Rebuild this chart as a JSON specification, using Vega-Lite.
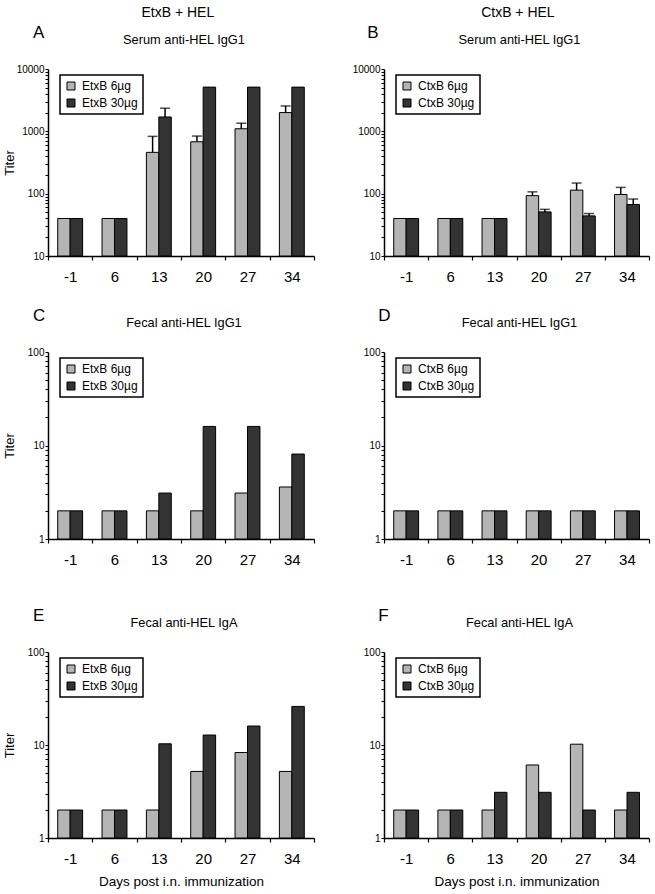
{
  "$schema": "https://vega.github.io/schema/vega-lite/v6.json",
  "padding": {"left": 3, "top": 6, "right": 3, "bottom": 3},
  "background": "white",
  "config": {
    "font": "Liberation Sans",
    "view": {"stroke": null},
    "title": {"fontWeight": "normal", "color": "black", "font": "Liberation Sans"},
    "axis": {"domainColor": "black", "tickColor": "black", "labelColor": "black", "titleColor": "black", "grid": false, "labelFont": "Liberation Sans", "titleFont": "Liberation Sans", "domainWidth": 1.5},
    "legend": {"orient": "none", "legendX": 12, "legendY": 6, "direction": "vertical", "padding": 5, "strokeColor": "black", "strokeWidth": 1.5, "fillColor": "white", "symbolType": "square", "symbolSize": 64, "symbolStrokeColor": "black", "symbolStrokeWidth": 1, "labelFontSize": 12, "labelColor": "black", "labelFont": "Liberation Sans", "rowPadding": 5, "labelOffset": 5, "titleFontSize": 1}
  },
  "datasets": {
    "d": [
      {"p": "A", "day": -1, "dose": "6µg", "g": "EtxB 6µg", "v": 40},
      {"p": "A", "day": -1, "dose": "30µg", "g": "EtxB 30µg", "v": 40},
      {"p": "A", "day": 6, "dose": "6µg", "g": "EtxB 6µg", "v": 40},
      {"p": "A", "day": 6, "dose": "30µg", "g": "EtxB 30µg", "v": 40},
      {"p": "A", "day": 13, "dose": "6µg", "g": "EtxB 6µg", "v": 460, "hi": 830},
      {"p": "A", "day": 13, "dose": "30µg", "g": "EtxB 30µg", "v": 1700, "hi": 2350},
      {"p": "A", "day": 20, "dose": "6µg", "g": "EtxB 6µg", "v": 680, "hi": 840},
      {"p": "A", "day": 20, "dose": "30µg", "g": "EtxB 30µg", "v": 5120},
      {"p": "A", "day": 27, "dose": "6µg", "g": "EtxB 6µg", "v": 1100, "hi": 1350},
      {"p": "A", "day": 27, "dose": "30µg", "g": "EtxB 30µg", "v": 5120},
      {"p": "A", "day": 34, "dose": "6µg", "g": "EtxB 6µg", "v": 2000, "hi": 2550},
      {"p": "A", "day": 34, "dose": "30µg", "g": "EtxB 30µg", "v": 5120},
      {"p": "B", "day": -1, "dose": "6µg", "g": "CtxB 6µg", "v": 40},
      {"p": "B", "day": -1, "dose": "30µg", "g": "CtxB 30µg", "v": 40},
      {"p": "B", "day": 6, "dose": "6µg", "g": "CtxB 6µg", "v": 40},
      {"p": "B", "day": 6, "dose": "30µg", "g": "CtxB 30µg", "v": 40},
      {"p": "B", "day": 13, "dose": "6µg", "g": "CtxB 6µg", "v": 40},
      {"p": "B", "day": 13, "dose": "30µg", "g": "CtxB 30µg", "v": 40},
      {"p": "B", "day": 20, "dose": "6µg", "g": "CtxB 6µg", "v": 93, "hi": 107},
      {"p": "B", "day": 20, "dose": "30µg", "g": "CtxB 30µg", "v": 51, "hi": 56},
      {"p": "B", "day": 27, "dose": "6µg", "g": "CtxB 6µg", "v": 114, "hi": 148},
      {"p": "B", "day": 27, "dose": "30µg", "g": "CtxB 30µg", "v": 44, "hi": 48},
      {"p": "B", "day": 34, "dose": "6µg", "g": "CtxB 6µg", "v": 97, "hi": 126},
      {"p": "B", "day": 34, "dose": "30µg", "g": "CtxB 30µg", "v": 67, "hi": 82},
      {"p": "C", "day": -1, "dose": "6µg", "g": "EtxB 6µg", "v": 2},
      {"p": "C", "day": -1, "dose": "30µg", "g": "EtxB 30µg", "v": 2},
      {"p": "C", "day": 6, "dose": "6µg", "g": "EtxB 6µg", "v": 2},
      {"p": "C", "day": 6, "dose": "30µg", "g": "EtxB 30µg", "v": 2},
      {"p": "C", "day": 13, "dose": "6µg", "g": "EtxB 6µg", "v": 2},
      {"p": "C", "day": 13, "dose": "30µg", "g": "EtxB 30µg", "v": 3.1},
      {"p": "C", "day": 20, "dose": "6µg", "g": "EtxB 6µg", "v": 2},
      {"p": "C", "day": 20, "dose": "30µg", "g": "EtxB 30µg", "v": 16},
      {"p": "C", "day": 27, "dose": "6µg", "g": "EtxB 6µg", "v": 3.1},
      {"p": "C", "day": 27, "dose": "30µg", "g": "EtxB 30µg", "v": 16},
      {"p": "C", "day": 34, "dose": "6µg", "g": "EtxB 6µg", "v": 3.6},
      {"p": "C", "day": 34, "dose": "30µg", "g": "EtxB 30µg", "v": 8.1},
      {"p": "D", "day": -1, "dose": "6µg", "g": "CtxB 6µg", "v": 2},
      {"p": "D", "day": -1, "dose": "30µg", "g": "CtxB 30µg", "v": 2},
      {"p": "D", "day": 6, "dose": "6µg", "g": "CtxB 6µg", "v": 2},
      {"p": "D", "day": 6, "dose": "30µg", "g": "CtxB 30µg", "v": 2},
      {"p": "D", "day": 13, "dose": "6µg", "g": "CtxB 6µg", "v": 2},
      {"p": "D", "day": 13, "dose": "30µg", "g": "CtxB 30µg", "v": 2},
      {"p": "D", "day": 20, "dose": "6µg", "g": "CtxB 6µg", "v": 2},
      {"p": "D", "day": 20, "dose": "30µg", "g": "CtxB 30µg", "v": 2},
      {"p": "D", "day": 27, "dose": "6µg", "g": "CtxB 6µg", "v": 2},
      {"p": "D", "day": 27, "dose": "30µg", "g": "CtxB 30µg", "v": 2},
      {"p": "D", "day": 34, "dose": "6µg", "g": "CtxB 6µg", "v": 2},
      {"p": "D", "day": 34, "dose": "30µg", "g": "CtxB 30µg", "v": 2},
      {"p": "E", "day": -1, "dose": "6µg", "g": "EtxB 6µg", "v": 2},
      {"p": "E", "day": -1, "dose": "30µg", "g": "EtxB 30µg", "v": 2},
      {"p": "E", "day": 6, "dose": "6µg", "g": "EtxB 6µg", "v": 2},
      {"p": "E", "day": 6, "dose": "30µg", "g": "EtxB 30µg", "v": 2},
      {"p": "E", "day": 13, "dose": "6µg", "g": "EtxB 6µg", "v": 2},
      {"p": "E", "day": 13, "dose": "30µg", "g": "EtxB 30µg", "v": 10.3},
      {"p": "E", "day": 20, "dose": "6µg", "g": "EtxB 6µg", "v": 5.2},
      {"p": "E", "day": 20, "dose": "30µg", "g": "EtxB 30µg", "v": 12.8},
      {"p": "E", "day": 27, "dose": "6µg", "g": "EtxB 6µg", "v": 8.3},
      {"p": "E", "day": 27, "dose": "30µg", "g": "EtxB 30µg", "v": 16},
      {"p": "E", "day": 34, "dose": "6µg", "g": "EtxB 6µg", "v": 5.2},
      {"p": "E", "day": 34, "dose": "30µg", "g": "EtxB 30µg", "v": 26},
      {"p": "F", "day": -1, "dose": "6µg", "g": "CtxB 6µg", "v": 2},
      {"p": "F", "day": -1, "dose": "30µg", "g": "CtxB 30µg", "v": 2},
      {"p": "F", "day": 6, "dose": "6µg", "g": "CtxB 6µg", "v": 2},
      {"p": "F", "day": 6, "dose": "30µg", "g": "CtxB 30µg", "v": 2},
      {"p": "F", "day": 13, "dose": "6µg", "g": "CtxB 6µg", "v": 2},
      {"p": "F", "day": 13, "dose": "30µg", "g": "CtxB 30µg", "v": 3.1},
      {"p": "F", "day": 20, "dose": "6µg", "g": "CtxB 6µg", "v": 6.1},
      {"p": "F", "day": 20, "dose": "30µg", "g": "CtxB 30µg", "v": 3.1},
      {"p": "F", "day": 27, "dose": "6µg", "g": "CtxB 6µg", "v": 10.2},
      {"p": "F", "day": 27, "dose": "30µg", "g": "CtxB 30µg", "v": 2},
      {"p": "F", "day": 34, "dose": "6µg", "g": "CtxB 6µg", "v": 2},
      {"p": "F", "day": 34, "dose": "30µg", "g": "CtxB 30µg", "v": 3.1}
    ]
  },
  "resolve": {"scale": {"fill": "independent", "x": "independent", "y": "independent"}, "legend": {"fill": "independent"}, "axis": {"x": "independent", "y": "independent"}},
  "spacing": 37,
  "hconcat": [
    {
      "title": {"text": "EtxB + HEL", "fontSize": 14, "anchor": "middle", "dx": 19},
      "spacing": 23,
      "resolve": {"scale": {"fill": "independent", "x": "independent", "y": "independent"}, "legend": {"fill": "independent"}, "axis": {"x": "independent", "y": "independent"}},
      "vconcat": [
        {
          "title": {"text": "A", "fontSize": 17, "anchor": "start", "dx": 30, "offset": -8},
          "resolve": {"scale": {"fill": "independent", "x": "independent", "y": "independent"}, "legend": {"fill": "independent"}, "axis": {"x": "independent", "y": "independent"}},
          "vconcat": [
            {
              "title": {"text": "Serum anti-HEL IgG1", "fontSize": 12.8, "dx": 3, "offset": 17},
              "width": 266, "height": 187,
              "data": {"name": "d"},
              "transform": [{"filter": "datum.p == 'A'"}],
              "encoding": {
                "x": {"field": "day", "type": "ordinal", "scale": {"paddingInner": 0, "paddingOuter": 0}, "axis": {"title": null, "tickBand": "extent", "labelAngle": 0, "labelFontSize": 15, "labelPadding": 9, "tickSize": 4, "tickWidth": 1.2}},
                "xOffset": {"field": "dose", "type": "nominal", "sort": ["6µg", "30µg"], "scale": {"paddingInner": 0, "paddingOuter": 0.78}}
              },
              "layer": [
                {
                  "mark": {"type": "bar", "stroke": "black", "strokeWidth": 1},
                  "encoding": {
                    "y": {"field": "v", "type": "quantitative", "title": "Titer", "scale": {"type": "log", "domain": [10, 10000], "nice": false},
                      "axis": {"titleFontSize": 13, "titleFontWeight": "normal", "titleX": -32, "titleBaseline": "bottom", "titleAngle": -90, "values": [10, 20, 30, 40, 50, 60, 70, 80, 90, 100, 200, 300, 400, 500, 600, 700, 800, 900, 1000, 2000, 3000, 4000, 5000, 6000, 7000, 8000, 9000, 10000], "format": "d", "labelExpr": "indexof([1, 10, 100, 1000, 10000], datum.value) >= 0 ? datum.label : ''", "labelOverlap": false, "tickSize": 3, "tickWidth": 1, "labelFontSize": 10, "labelPadding": 1}},
                    "y2": {"datum": 10},
                    "fill": {"field": "g", "type": "nominal", "title": null, "scale": {"domain": ["EtxB 6µg", "EtxB 30µg"], "range": ["#b4b4b4", "#333333"]}}
                  }
                },
                {
                  "transform": [{"filter": "isValid(datum.hi)"}],
                  "mark": {"type": "rule", "color": "black", "strokeWidth": 1.5},
                  "encoding": {"y": {"field": "v", "type": "quantitative", "title": "Titer"}, "y2": {"field": "hi"}}
                },
                {
                  "transform": [{"filter": "isValid(datum.hi)"}],
                  "mark": {"type": "tick", "color": "black", "size": 10, "thickness": 1.5},
                  "encoding": {"y": {"field": "hi", "type": "quantitative", "title": "Titer"}}
                }
              ]
            }
          ]
        },
        {
          "title": {"text": "C", "fontSize": 17, "anchor": "start", "dx": 30, "offset": -8},
          "resolve": {"scale": {"fill": "independent", "x": "independent", "y": "independent"}, "legend": {"fill": "independent"}, "axis": {"x": "independent", "y": "independent"}},
          "vconcat": [
            {
              "title": {"text": "Fecal anti-HEL IgG1", "fontSize": 12.8, "dx": 3, "offset": 17},
              "width": 266, "height": 187,
              "data": {"name": "d"},
              "transform": [{"filter": "datum.p == 'C'"}],
              "encoding": {
                "x": {"field": "day", "type": "ordinal", "scale": {"paddingInner": 0, "paddingOuter": 0}, "axis": {"title": null, "minExtent": 45, "tickBand": "extent", "labelAngle": 0, "labelFontSize": 15, "labelPadding": 9, "tickSize": 4, "tickWidth": 1.2}},
                "xOffset": {"field": "dose", "type": "nominal", "sort": ["6µg", "30µg"], "scale": {"paddingInner": 0, "paddingOuter": 0.78}}
              },
              "layer": [
                {
                  "mark": {"type": "bar", "stroke": "black", "strokeWidth": 1},
                  "encoding": {
                    "y": {"field": "v", "type": "quantitative", "title": "Titer", "scale": {"type": "log", "domain": [1, 100], "nice": false},
                      "axis": {"titleFontSize": 13, "titleFontWeight": "normal", "titleX": -32, "titleBaseline": "bottom", "titleAngle": -90, "values": [1, 2, 3, 4, 5, 6, 7, 8, 9, 10, 20, 30, 40, 50, 60, 70, 80, 90, 100], "format": "d", "labelExpr": "indexof([1, 10, 100, 1000, 10000], datum.value) >= 0 ? datum.label : ''", "labelOverlap": false, "tickSize": 3, "tickWidth": 1, "labelFontSize": 10, "labelPadding": 1}},
                    "y2": {"datum": 1},
                    "fill": {"field": "g", "type": "nominal", "title": null, "scale": {"domain": ["EtxB 6µg", "EtxB 30µg"], "range": ["#b4b4b4", "#333333"]}}
                  }
                }
              ]
            }
          ]
        },
        {
          "title": {"text": "E", "fontSize": 17, "anchor": "start", "dx": 30, "offset": -8},
          "resolve": {"scale": {"fill": "independent", "x": "independent", "y": "independent"}, "legend": {"fill": "independent"}, "axis": {"x": "independent", "y": "independent"}},
          "vconcat": [
            {
              "title": {"text": "Fecal anti-HEL IgA", "fontSize": 12.8, "dx": 3, "offset": 17},
              "width": 266, "height": 186,
              "data": {"name": "d"},
              "transform": [{"filter": "datum.p == 'E'"}],
              "encoding": {
                "x": {"field": "day", "type": "ordinal", "scale": {"paddingInner": 0, "paddingOuter": 0}, "axis": {"title": "Days post i.n. immunization", "titleFontSize": 13.5, "titleFontWeight": "normal", "titlePadding": 8, "tickBand": "extent", "labelAngle": 0, "labelFontSize": 15, "labelPadding": 9, "tickSize": 4, "tickWidth": 1.2}},
                "xOffset": {"field": "dose", "type": "nominal", "sort": ["6µg", "30µg"], "scale": {"paddingInner": 0, "paddingOuter": 0.78}}
              },
              "layer": [
                {
                  "mark": {"type": "bar", "stroke": "black", "strokeWidth": 1},
                  "encoding": {
                    "y": {"field": "v", "type": "quantitative", "title": "Titer", "scale": {"type": "log", "domain": [1, 100], "nice": false},
                      "axis": {"titleFontSize": 13, "titleFontWeight": "normal", "titleX": -32, "titleBaseline": "bottom", "titleAngle": -90, "values": [1, 2, 3, 4, 5, 6, 7, 8, 9, 10, 20, 30, 40, 50, 60, 70, 80, 90, 100], "format": "d", "labelExpr": "indexof([1, 10, 100, 1000, 10000], datum.value) >= 0 ? datum.label : ''", "labelOverlap": false, "tickSize": 3, "tickWidth": 1, "labelFontSize": 10, "labelPadding": 1}},
                    "y2": {"datum": 1},
                    "fill": {"field": "g", "type": "nominal", "title": null, "scale": {"domain": ["EtxB 6µg", "EtxB 30µg"], "range": ["#b4b4b4", "#333333"]}}
                  }
                }
              ]
            }
          ]
        }
      ]
    },
    {
      "title": {"text": "CtxB + HEL", "fontSize": 14, "anchor": "middle", "dx": 17},
      "spacing": 23,
      "resolve": {"scale": {"fill": "independent", "x": "independent", "y": "independent"}, "legend": {"fill": "independent"}, "axis": {"x": "independent", "y": "independent"}},
      "vconcat": [
        {
          "title": {"text": "B", "fontSize": 17, "anchor": "start", "dx": 15, "offset": -8},
          "resolve": {"scale": {"fill": "independent", "x": "independent", "y": "independent"}, "legend": {"fill": "independent"}, "axis": {"x": "independent", "y": "independent"}},
          "vconcat": [
            {
              "title": {"text": "Serum anti-HEL IgG1", "fontSize": 12.8, "dx": 3, "offset": 17},
              "width": 265, "height": 187,
              "data": {"name": "d"},
              "transform": [{"filter": "datum.p == 'B'"}],
              "encoding": {
                "x": {"field": "day", "type": "ordinal", "scale": {"paddingInner": 0, "paddingOuter": 0}, "axis": {"title": null, "tickBand": "extent", "labelAngle": 0, "labelFontSize": 15, "labelPadding": 9, "tickSize": 4, "tickWidth": 1.2}},
                "xOffset": {"field": "dose", "type": "nominal", "sort": ["6µg", "30µg"], "scale": {"paddingInner": 0, "paddingOuter": 0.78}}
              },
              "layer": [
                {
                  "mark": {"type": "bar", "stroke": "black", "strokeWidth": 1},
                  "encoding": {
                    "y": {"field": "v", "type": "quantitative", "title": null, "scale": {"type": "log", "domain": [10, 10000], "nice": false},
                      "axis": {"values": [10, 20, 30, 40, 50, 60, 70, 80, 90, 100, 200, 300, 400, 500, 600, 700, 800, 900, 1000, 2000, 3000, 4000, 5000, 6000, 7000, 8000, 9000, 10000], "format": "d", "labelExpr": "indexof([1, 10, 100, 1000, 10000], datum.value) >= 0 ? datum.label : ''", "labelOverlap": false, "tickSize": 3, "tickWidth": 1, "labelFontSize": 10, "labelPadding": 1}},
                    "y2": {"datum": 10},
                    "fill": {"field": "g", "type": "nominal", "title": null, "scale": {"domain": ["CtxB 6µg", "CtxB 30µg"], "range": ["#b4b4b4", "#333333"]}}
                  }
                },
                {
                  "transform": [{"filter": "isValid(datum.hi)"}],
                  "mark": {"type": "rule", "color": "black", "strokeWidth": 1.5},
                  "encoding": {"y": {"field": "v", "type": "quantitative", "title": null}, "y2": {"field": "hi"}}
                },
                {
                  "transform": [{"filter": "isValid(datum.hi)"}],
                  "mark": {"type": "tick", "color": "black", "size": 10, "thickness": 1.5},
                  "encoding": {"y": {"field": "hi", "type": "quantitative", "title": null}}
                }
              ]
            }
          ]
        },
        {
          "title": {"text": "D", "fontSize": 17, "anchor": "start", "dx": 15, "offset": -8},
          "resolve": {"scale": {"fill": "independent", "x": "independent", "y": "independent"}, "legend": {"fill": "independent"}, "axis": {"x": "independent", "y": "independent"}},
          "vconcat": [
            {
              "title": {"text": "Fecal anti-HEL IgG1", "fontSize": 12.8, "dx": 3, "offset": 17},
              "width": 265, "height": 187,
              "data": {"name": "d"},
              "transform": [{"filter": "datum.p == 'D'"}],
              "encoding": {
                "x": {"field": "day", "type": "ordinal", "scale": {"paddingInner": 0, "paddingOuter": 0}, "axis": {"title": null, "minExtent": 45, "tickBand": "extent", "labelAngle": 0, "labelFontSize": 15, "labelPadding": 9, "tickSize": 4, "tickWidth": 1.2}},
                "xOffset": {"field": "dose", "type": "nominal", "sort": ["6µg", "30µg"], "scale": {"paddingInner": 0, "paddingOuter": 0.78}}
              },
              "layer": [
                {
                  "mark": {"type": "bar", "stroke": "black", "strokeWidth": 1},
                  "encoding": {
                    "y": {"field": "v", "type": "quantitative", "title": null, "scale": {"type": "log", "domain": [1, 100], "nice": false},
                      "axis": {"values": [1, 2, 3, 4, 5, 6, 7, 8, 9, 10, 20, 30, 40, 50, 60, 70, 80, 90, 100], "format": "d", "labelExpr": "indexof([1, 10, 100, 1000, 10000], datum.value) >= 0 ? datum.label : ''", "labelOverlap": false, "tickSize": 3, "tickWidth": 1, "labelFontSize": 10, "labelPadding": 1}},
                    "y2": {"datum": 1},
                    "fill": {"field": "g", "type": "nominal", "title": null, "scale": {"domain": ["CtxB 6µg", "CtxB 30µg"], "range": ["#b4b4b4", "#333333"]}}
                  }
                }
              ]
            }
          ]
        },
        {
          "title": {"text": "F", "fontSize": 17, "anchor": "start", "dx": 15, "offset": -8},
          "resolve": {"scale": {"fill": "independent", "x": "independent", "y": "independent"}, "legend": {"fill": "independent"}, "axis": {"x": "independent", "y": "independent"}},
          "vconcat": [
            {
              "title": {"text": "Fecal anti-HEL IgA", "fontSize": 12.8, "dx": 3, "offset": 17},
              "width": 265, "height": 186,
              "data": {"name": "d"},
              "transform": [{"filter": "datum.p == 'F'"}],
              "encoding": {
                "x": {"field": "day", "type": "ordinal", "scale": {"paddingInner": 0, "paddingOuter": 0}, "axis": {"title": "Days post i.n. immunization", "titleFontSize": 13.5, "titleFontWeight": "normal", "titlePadding": 8, "tickBand": "extent", "labelAngle": 0, "labelFontSize": 15, "labelPadding": 9, "tickSize": 4, "tickWidth": 1.2}},
                "xOffset": {"field": "dose", "type": "nominal", "sort": ["6µg", "30µg"], "scale": {"paddingInner": 0, "paddingOuter": 0.78}}
              },
              "layer": [
                {
                  "mark": {"type": "bar", "stroke": "black", "strokeWidth": 1},
                  "encoding": {
                    "y": {"field": "v", "type": "quantitative", "title": null, "scale": {"type": "log", "domain": [1, 100], "nice": false},
                      "axis": {"values": [1, 2, 3, 4, 5, 6, 7, 8, 9, 10, 20, 30, 40, 50, 60, 70, 80, 90, 100], "format": "d", "labelExpr": "indexof([1, 10, 100, 1000, 10000], datum.value) >= 0 ? datum.label : ''", "labelOverlap": false, "tickSize": 3, "tickWidth": 1, "labelFontSize": 10, "labelPadding": 1}},
                    "y2": {"datum": 1},
                    "fill": {"field": "g", "type": "nominal", "title": null, "scale": {"domain": ["CtxB 6µg", "CtxB 30µg"], "range": ["#b4b4b4", "#333333"]}}
                  }
                }
              ]
            }
          ]
        }
      ]
    }
  ]
}
